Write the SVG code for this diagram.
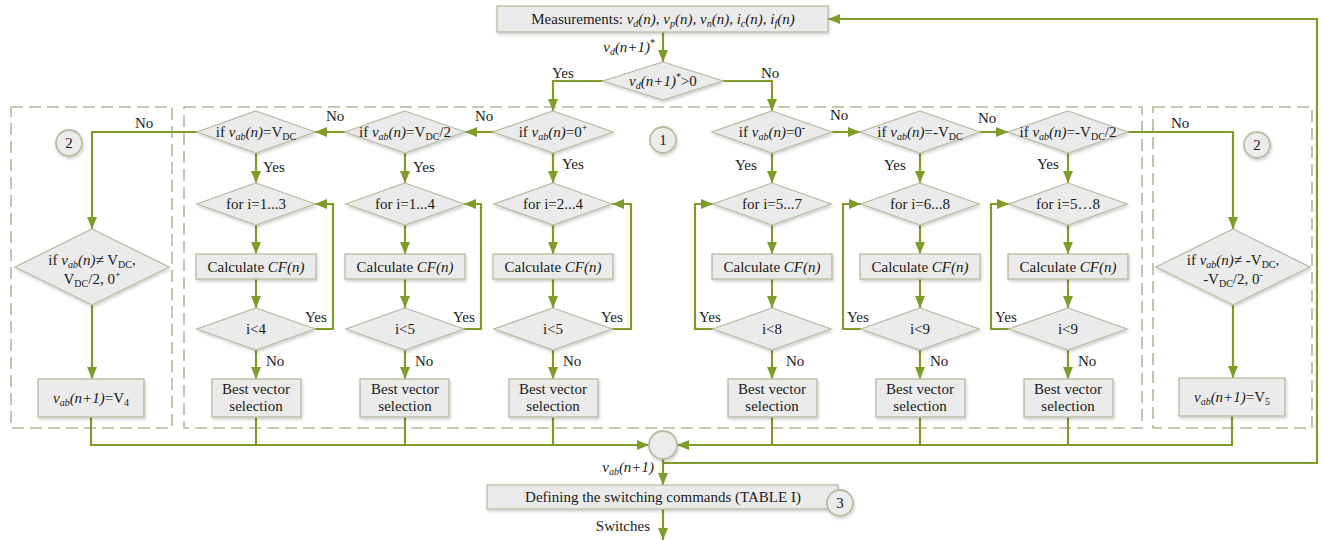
<svg xmlns="http://www.w3.org/2000/svg" width="1323" height="540" viewBox="0 0 1323 540">
<defs>
<marker id="ah" viewBox="0 0 12 10" refX="12" refY="5" markerWidth="12" markerHeight="10" markerUnits="userSpaceOnUse" orient="auto"><path d="M0,0 L12,5 L0,10 z" fill="#7f9b2a"/></marker>
<filter id="sh" x="-20%" y="-20%" width="140%" height="160%"><feDropShadow dx="1" dy="2" stdDeviation="1.5" flood-color="#000" flood-opacity="0.18"/></filter>
</defs>
<style>
text{font-family:"Liberation Serif","Times New Roman",serif;font-size:15px;fill:#1a1a1a}
.mid{text-anchor:middle}
.i{font-style:italic}
.s{font-size:10px}
.box{fill:#ebebeb;stroke:#b9bda4;stroke-width:1.3;filter:url(#sh)}
.dash{fill:none;stroke:#b4b89c;stroke-width:1.6;stroke-dasharray:12 6}
.ln{fill:none;stroke:#7f9b2a;stroke-width:2.2}
.ar{marker-end:url(#ah)}
.circ{fill:#ececec;stroke:#b9bda4;stroke-width:1.8;filter:url(#sh)}
</style>
<rect width="1323" height="540" fill="#fff"/>

<g id="groups">
<rect class="dash" x="11" y="107" width="161" height="321"/>
<rect class="dash" x="184" y="107" width="958" height="321"/>
<rect class="dash" x="1153" y="107" width="159" height="321"/>
</g>

<g id="connectors">
<path class="ln ar" d="M663,32 V62"/>
<path class="ln ar" d="M603,81 H553 V111"/>
<path class="ln ar" d="M723,81 H772 V111"/>
<path class="ln ar" d="M494,132 H465"/>
<path class="ln ar" d="M345,132 H315"/>
<path class="ln ar" d="M197,132 H92 V229"/>
<path class="ln ar" d="M832,132 H860"/>
<path class="ln ar" d="M980,132 H1008"/>
<path class="ln ar" d="M1128,132 H1233 V229"/>
<path class="ln ar" d="M256,153 V183"/><path class="ln ar" d="M256,225 V254"/><path class="ln ar" d="M256,279 V308"/><path class="ln ar" d="M256,350 V379"/>
<path class="ln ar" d="M405,153 V183"/><path class="ln ar" d="M405,225 V254"/><path class="ln ar" d="M405,279 V308"/><path class="ln ar" d="M405,350 V379"/>
<path class="ln ar" d="M553,153 V183"/><path class="ln ar" d="M553,225 V254"/><path class="ln ar" d="M553,279 V308"/><path class="ln ar" d="M553,350 V379"/>
<path class="ln ar" d="M772,153 V183"/><path class="ln ar" d="M772,225 V254"/><path class="ln ar" d="M772,279 V308"/><path class="ln ar" d="M772,350 V379"/>
<path class="ln ar" d="M920,153 V183"/><path class="ln ar" d="M920,225 V254"/><path class="ln ar" d="M920,279 V308"/><path class="ln ar" d="M920,350 V379"/>
<path class="ln ar" d="M1068,153 V183"/><path class="ln ar" d="M1068,225 V254"/><path class="ln ar" d="M1068,279 V308"/><path class="ln ar" d="M1068,350 V379"/>
<path class="ln ar" d="M315,329 H333 V204 H315"/>
<path class="ln ar" d="M464,329 H481 V204 H464"/>
<path class="ln ar" d="M612,329 H631 V204 H612"/>
<path class="ln ar" d="M713,329 H695 V204 H713"/>
<path class="ln ar" d="M861,329 H843 V204 H861"/>
<path class="ln ar" d="M1009,329 H991 V204 H1009"/>
<path class="ln ar" d="M92,305 V379"/>
<path class="ln ar" d="M1233,305 V378"/>
<path class="ln ar" d="M91,417 V445 H649"/>
<path class="ln ar" d="M1232,416 V445 H677"/>
<path class="ln" d="M256,417 V445 M405,417 V445 M553,417 V445 M772,417 V445 M920,417 V445 M1068,417 V445"/>
<path class="ln ar" d="M663,459 V485"/>
<path class="ln ar" d="M663,463 H1317 V19 H828"/>
<path class="ln ar" d="M663,509 V540"/>
</g>

<g id="n-measure">
<rect class="box" x="497" y="6" width="331" height="26"/>
<text class="mid" x="663" y="24">Measurements: <tspan class="i">v</tspan><tspan class="i s" dy="3">d</tspan><tspan class="i" dy="-3">(n), v</tspan><tspan class="i s" dy="3">p</tspan><tspan class="i" dy="-3">(n), v</tspan><tspan class="i s" dy="3">n</tspan><tspan class="i" dy="-3">(n), i</tspan><tspan class="i s" dy="3">c</tspan><tspan class="i" dy="-3">(n), i</tspan><tspan class="i s" dy="3">f</tspan><tspan class="i" dy="-3">(n)</tspan></text>
<text x="655" y="52" text-anchor="end"><tspan class="i">v</tspan><tspan class="i s" dy="3">d</tspan><tspan class="i" dy="-3">(n+1)</tspan><tspan class="s" dy="-6">*</tspan></text>
</g>

<g id="n-top-decision">
<polygon class="box" points="663,62 723,81 663,100 603,81"/>
<text class="mid" x="663" y="86"><tspan class="i">v</tspan><tspan class="i s" dy="3">d</tspan><tspan class="i" dy="-3">(n+1)</tspan><tspan class="s" dy="-6">*</tspan><tspan dy="6">&gt;0</tspan></text>
<text x="552" y="78">Yes</text>
<text x="761" y="78">No</text>
</g>

<g id="n-badge1"><circle class="circ" cx="663" cy="140" r="13"/><text class="mid" x="663" y="145">1</text></g>
<g id="n-badge2L"><circle class="circ" cx="69" cy="143" r="13"/><text class="mid" x="69" y="148">2</text></g>
<g id="n-badge2R"><circle class="circ" cx="1257" cy="145" r="13"/><text class="mid" x="1257" y="150">2</text></g>

<g id="n-row1">
<polygon class="box" points="256,111 315,132 256,153 197,132"/>
<text class="mid" x="256" y="137">if <tspan class="i">v</tspan><tspan class="i s" dy="3">ab</tspan><tspan class="i" dy="-3">(n)</tspan>=V<tspan class="s" dy="3">DC</tspan></text>
<polygon class="box" points="405,111 465,132 405,153 345,132"/>
<text class="mid" x="405" y="137">if <tspan class="i">v</tspan><tspan class="i s" dy="3">ab</tspan><tspan class="i" dy="-3">(n)</tspan>=V<tspan class="s" dy="3">DC</tspan><tspan dy="-3">/2</tspan></text>
<polygon class="box" points="553,111 613,132 553,153 493,132"/>
<text class="mid" x="553" y="137">if <tspan class="i">v</tspan><tspan class="i s" dy="3">ab</tspan><tspan class="i" dy="-3">(n)</tspan>=0<tspan class="s" dy="-6">+</tspan></text>
<polygon class="box" points="772,111 832,132 772,153 712,132"/>
<text class="mid" x="772" y="137">if <tspan class="i">v</tspan><tspan class="i s" dy="3">ab</tspan><tspan class="i" dy="-3">(n)</tspan>=0<tspan class="s" dy="-6">-</tspan></text>
<polygon class="box" points="920,111 980,132 920,153 860,132"/>
<text class="mid" x="920" y="137">if <tspan class="i">v</tspan><tspan class="i s" dy="3">ab</tspan><tspan class="i" dy="-3">(n)</tspan>=-V<tspan class="s" dy="3">DC</tspan></text>
<polygon class="box" points="1068,111 1128,132 1068,153 1008,132"/>
<text class="mid" x="1068" y="137">if <tspan class="i">v</tspan><tspan class="i s" dy="3">ab</tspan><tspan class="i" dy="-3">(n)</tspan>=-V<tspan class="s" dy="3">DC</tspan><tspan dy="-3">/2</tspan></text>
<text x="135" y="128">No</text>
<text x="326" y="121">No</text>
<text x="475" y="121">No</text>
<text x="830" y="120">No</text>
<text x="978" y="123">No</text>
<text x="1171" y="128">No</text>
<text x="263" y="172">Yes</text>
<text x="413" y="172">Yes</text>
<text x="562" y="169">Yes</text>
<text x="735" y="170">Yes</text>
<text x="884" y="170">Yes</text>
<text x="1037" y="169">Yes</text>
</g>

<g id="n-row2">
<polygon class="box" points="256,183 315,204 256,225 197,204"/><text class="mid" x="256" y="209">for i=1...3</text>
<polygon class="box" points="405,183 464,204 405,225 346,204"/><text class="mid" x="405" y="209">for i=1...4</text>
<polygon class="box" points="553,183 612,204 553,225 494,204"/><text class="mid" x="553" y="209">for i=2...4</text>
<polygon class="box" points="772,183 831,204 772,225 713,204"/><text class="mid" x="772" y="209">for i=5...7</text>
<polygon class="box" points="920,183 979,204 920,225 861,204"/><text class="mid" x="920" y="209">for i=6...8</text>
<polygon class="box" points="1068,183 1127,204 1068,225 1009,204"/><text class="mid" x="1068" y="209">for i=5…8</text>
</g>

<g id="n-calc">
<rect class="box" x="196" y="254" width="120" height="25"/><text class="mid" x="256" y="272">Calculate  <tspan class="i">CF(n)</tspan></text>
<rect class="box" x="345" y="254" width="120" height="25"/><text class="mid" x="405" y="272">Calculate  <tspan class="i">CF(n)</tspan></text>
<rect class="box" x="493" y="254" width="120" height="25"/><text class="mid" x="553" y="272">Calculate  <tspan class="i">CF(n)</tspan></text>
<rect class="box" x="712" y="254" width="120" height="25"/><text class="mid" x="772" y="272">Calculate  <tspan class="i">CF(n)</tspan></text>
<rect class="box" x="860" y="254" width="120" height="25"/><text class="mid" x="920" y="272">Calculate  <tspan class="i">CF(n)</tspan></text>
<rect class="box" x="1008" y="254" width="120" height="25"/><text class="mid" x="1068" y="272">Calculate  <tspan class="i">CF(n)</tspan></text>
</g>

<g id="n-row3">
<polygon class="box" points="256,308 315,329 256,350 197,329"/><text class="mid" x="256" y="334">i&lt;4</text>
<polygon class="box" points="405,308 464,329 405,350 346,329"/><text class="mid" x="405" y="334">i&lt;5</text>
<polygon class="box" points="553,308 612,329 553,350 494,329"/><text class="mid" x="553" y="334">i&lt;5</text>
<polygon class="box" points="772,308 831,329 772,350 713,329"/><text class="mid" x="772" y="334">i&lt;8</text>
<polygon class="box" points="920,308 979,329 920,350 861,329"/><text class="mid" x="920" y="334">i&lt;9</text>
<polygon class="box" points="1068,308 1127,329 1068,350 1009,329"/><text class="mid" x="1068" y="334">i&lt;9</text>
<text x="305" y="322">Yes</text><text x="453" y="322">Yes</text><text x="601" y="322">Yes</text>
<text x="699" y="322">Yes</text><text x="847" y="322">Yes</text><text x="995" y="322">Yes</text>
<text x="266" y="366">No</text><text x="415" y="366">No</text><text x="563" y="366">No</text>
<text x="786" y="366">No</text><text x="930" y="366">No</text><text x="1078" y="366">No</text>
</g>

<g id="n-best">
<rect class="box" x="212" y="379" width="89" height="38"/><text class="mid" x="256" y="394">Best vector</text><text class="mid" x="256" y="411">selection</text>
<rect class="box" x="360" y="379" width="89" height="38"/><text class="mid" x="405" y="394">Best vector</text><text class="mid" x="405" y="411">selection</text>
<rect class="box" x="509" y="379" width="89" height="38"/><text class="mid" x="553" y="394">Best vector</text><text class="mid" x="553" y="411">selection</text>
<rect class="box" x="728" y="379" width="89" height="38"/><text class="mid" x="772" y="394">Best vector</text><text class="mid" x="772" y="411">selection</text>
<rect class="box" x="876" y="379" width="89" height="38"/><text class="mid" x="920" y="394">Best vector</text><text class="mid" x="920" y="411">selection</text>
<rect class="box" x="1024" y="379" width="89" height="38"/><text class="mid" x="1068" y="394">Best vector</text><text class="mid" x="1068" y="411">selection</text>
</g>

<g id="n-left">
<polygon class="box" points="92,229 169,267 92,305 15,267"/>
<text class="mid" x="92" y="265">if <tspan class="i">v</tspan><tspan class="i s" dy="3">ab</tspan><tspan class="i" dy="-3">(n)</tspan>≠ V<tspan class="s" dy="3">DC</tspan><tspan dy="-3">,</tspan></text>
<text class="mid" x="92" y="284">V<tspan class="s" dy="3">DC</tspan><tspan dy="-3">/2, 0</tspan><tspan class="s" dy="-6">+</tspan></text>
<rect class="box" x="38" y="379" width="106" height="38"/>
<text class="mid" x="91" y="403"><tspan class="i">v</tspan><tspan class="i s" dy="3">ab</tspan><tspan class="i" dy="-3">(n+1)</tspan>=V<tspan class="s" dy="3">4</tspan></text>
</g>

<g id="n-right">
<polygon class="box" points="1233,229 1310,267 1233,305 1156,267"/>
<text class="mid" x="1233" y="265">if <tspan class="i">v</tspan><tspan class="i s" dy="3">ab</tspan><tspan class="i" dy="-3">(n)</tspan>≠ -V<tspan class="s" dy="3">DC</tspan><tspan dy="-3">,</tspan></text>
<text class="mid" x="1233" y="284">-V<tspan class="s" dy="3">DC</tspan><tspan dy="-3">/2, 0</tspan><tspan class="s" dy="-6">-</tspan></text>
<rect class="box" x="1179" y="378" width="106" height="38"/>
<text class="mid" x="1232" y="402"><tspan class="i">v</tspan><tspan class="i s" dy="3">ab</tspan><tspan class="i" dy="-3">(n+1)</tspan>=V<tspan class="s" dy="3">5</tspan></text>
</g>

<g id="n-merge"><circle class="circ" cx="663" cy="445" r="14"/></g>

<g id="n-define">
<text x="654" y="472" text-anchor="end"><tspan class="i">v</tspan><tspan class="i s" dy="3">ab</tspan><tspan class="i" dy="-3">(n+1)</tspan></text>
<rect class="box" x="487" y="485" width="351" height="24"/>
<text class="mid" x="663" y="502">Defining the switching commands (TABLE I)</text>
<circle class="circ" cx="840" cy="503" r="13"/><text class="mid" x="840" y="508">3</text>
<text x="650" y="531" text-anchor="end">Switches</text>
</g>
</svg>
